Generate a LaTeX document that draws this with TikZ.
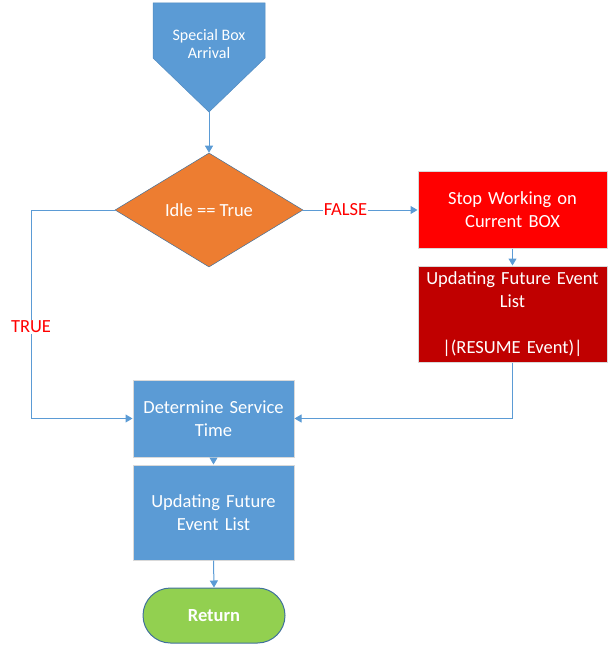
\documentclass[tikz,border=0pt]{standalone}
\usepackage{fontspec}
\setmainfont{Carlito}
\usepackage{tikz}
\usetikzlibrary{arrows.meta,positioning,shapes.geometric,calc}
\definecolor{boxblue}{HTML}{5B9BD5}
\definecolor{decide}{HTML}{ED7D31}
\definecolor{stopred}{HTML}{FF0000}
\definecolor{darkred}{HTML}{C00000}
\definecolor{retgreen}{HTML}{92D050}
\definecolor{edgeblue}{HTML}{41719C}

\begin{document}
\begin{tikzpicture}[x=1pt, y=-1pt,
    flow/.style={draw=boxblue, line width=1pt, -{Triangle[length=7pt,width=8pt]}},
    procbox/.style={rectangle, draw=black!15, line width=1pt, text=white, align=center,
      inner sep=0pt, font=\fontsize{18.5}{23}\selectfont},
    yesno/.style={text=stopred, fill=white, inner sep=1pt, font=\fontsize{18.5}{22}\selectfont}]
    \useasboundingbox (0,0) rectangle (613,652);

    % Start shape
    \filldraw[fill=boxblue, draw=boxblue!90!black, line width=0.5pt]
      (153,3) -- (265,3) -- (265,58) -- (209,112) -- (153,58) -- cycle;
    \node[text=white, align=center, font=\fontsize{16}{18}\selectfont] (arrival) at (209,44) {Special Box\\Arrival};
    \coordinate (arrival-tip) at (209,112);

    % Decision
    \node[diamond, fill=decide, draw=edgeblue, line width=0.5pt, minimum width=188pt, minimum height=114pt,
      inner sep=0pt, text=white, font=\fontsize{18.5}{22}\selectfont] (idle) at (209,210) {Idle == True};

    % FALSE branch
    \node[procbox, fill=stopred, minimum width=189pt, minimum height=76pt, text width=186pt] (stop) at (512.5,210)
      {Stop Working on\\Current BOX};
    \node[procbox, fill=darkred, minimum width=189pt, minimum height=96pt, text width=188pt] (resume) at (512.5,314)
      {Updating Future Event\\List\\[23pt]|(RESUME Event)|};

    % Main column
    \node[procbox, fill=boxblue, minimum width=161pt, minimum height=77pt, text width=158pt] (service) at (213.5,418.5)
      {Determine Service\\Time};
    \node[procbox, fill=boxblue, minimum width=161pt, minimum height=95pt, text width=158pt] (update) at (213.5,512.5)
      {Updating Future\\Event List};
    \node[rectangle, rounded corners=27.5pt, fill=retgreen, draw=edgeblue, line width=1pt, minimum width=142pt,
      minimum height=55pt, text=white, font=\fontsize{18.5}{22}\selectfont\bfseries] (ret) at (214,615.5) {Return};

    % Connectors
    \coordinate (truebend) at (31,418.5);
    \draw[flow] (idle.west) -| (truebend) node[yesno, pos=0.78] {TRUE} -- (service.west);
    \draw[flow] (arrival-tip) -- (idle.north);
    \draw[flow] (idle.east) -- node[yesno, pos=0.37] {FALSE} (stop.west);
    \draw[flow] (stop.south) -- (resume.north);
    \draw[flow] (resume.south) |- (service.east);
    \draw[flow] (service.south) -- (update.north);
    \draw[flow] (update.south) -- (ret.north);
  \end{tikzpicture}
\end{document}
